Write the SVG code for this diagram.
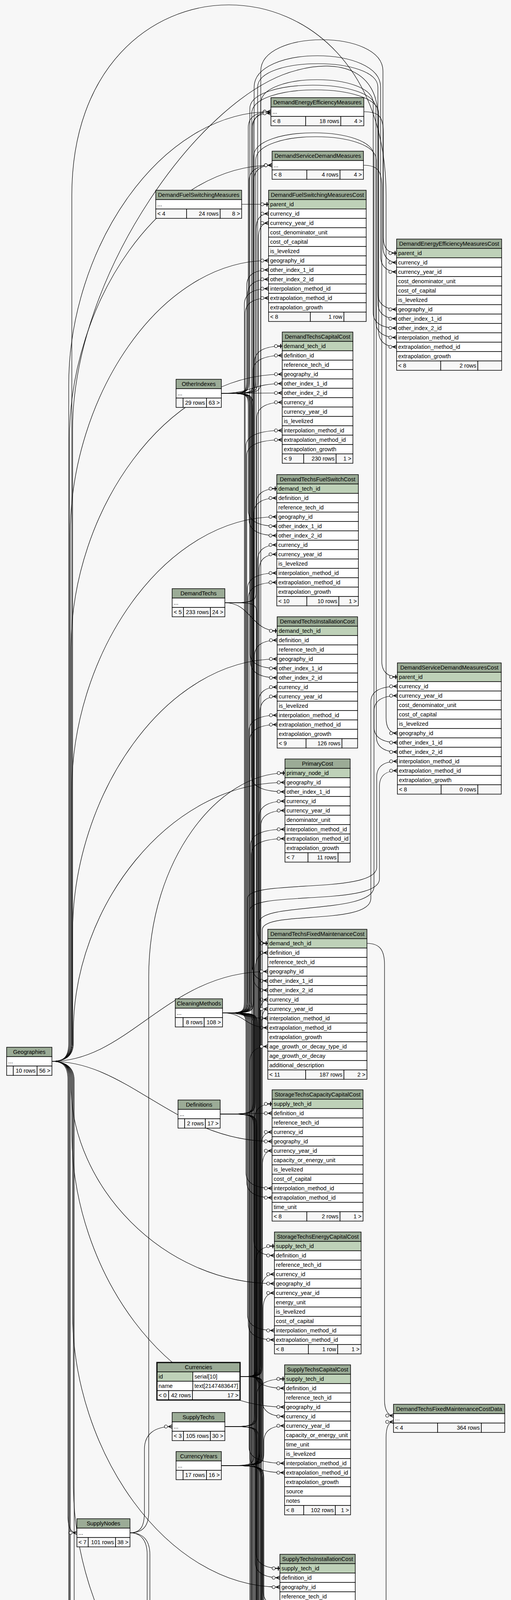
<svg xmlns="http://www.w3.org/2000/svg" width="1309" height="6446" viewBox="0 0 1309 6446">
<defs>
<style>
text{font-family:"Liberation Sans",Arial,Helvetica,sans-serif;font-size:14.5px;fill:#000}
.tc{text-anchor:middle}
.tr{text-anchor:end}
.h{fill:#9bab96;stroke:#000;stroke-width:1.5}
.k{fill:#bed1b8;stroke:#000;stroke-width:1.5}
.w{fill:#fff;stroke:#000;stroke-width:1.5}
.f{fill:#f7f7f7;stroke:#000;stroke-width:1.5}
#edges path{fill:none;stroke:#000;stroke-width:1.2;marker-end:url(#m)}
#edges path.o{marker-end:url(#o)}
</style>
<marker id="m" markerUnits="userSpaceOnUse" markerWidth="22" markerHeight="14" refX="22" refY="7" orient="auto">
<circle cx="6" cy="7" r="4" fill="#fff" stroke="#000" stroke-width="1.2"/>
<path d="M12 7L22 2.5M12 7L22 7M12 7L22 11.5" fill="none" stroke="#000" stroke-width="1.5"/>
</marker>
<marker id="o" markerUnits="userSpaceOnUse" markerWidth="22" markerHeight="14" refX="22" refY="7" orient="auto">
<circle cx="6" cy="7" r="4" fill="#fff" stroke="#000" stroke-width="1.2"/>
<path d="M10 7H22M18 1.5V12.5" fill="none" stroke="#000" stroke-width="2.5"/>
</marker>
</defs>
<rect x="0" y="0" width="1309" height="6446" fill="#f7f7f7"/>
<g id="edges">
<path d="M567 1007C632 1007 632 1007 632 967L632 731C632 703 654 691 688 691"/>
<path d="M567 1007C634 1007 634 1007 634 967L634 755C634 727 656 715 688 715"/>
<path d="M567 1007C645 1007 645 982 723 982"/>
<path d="M567 1007C645 1007 645 1006 723 1006"/>
<path d="M567 1007C636 1007 636 1007 636 1047L636 1307C636 1335 665 1347 709 1347"/>
<path d="M567 1007C638 1007 638 1007 638 1047L638 1331C638 1359 666 1371 709 1371"/>
<path d="M567 1007C640 1007 640 1007 640 1047L640 1671C640 1699 668 1711 710 1711"/>
<path d="M567 1007C642 1007 642 1007 642 1047L642 1695C642 1723 669 1735 710 1735"/>
<path d="M567 1007C644 1007 644 1007 644 1047L644 1987C644 2015 678 2027 730 2027"/>
<path d="M567 1007C646 1007 646 1007 646 1047L646 2471C646 2499 662 2511 686 2511"/>
<path d="M567 1007C648 1007 648 1007 648 1047L648 2495C648 2523 663 2535 686 2535"/>
<path d="M567 1007C660 1007 660 1007 660 967L660 223C660 143 968 143 968 223L968 776C968 804 990 816 1016 816"/>
<path d="M567 1007C668 1007 668 1007 668 967L668 264C668 184 956 184 956 264L956 800C956 828 980 840 1016 840"/>
<path d="M567 1007C650 1007 650 1007 650 967L650 400C650 320 958 320 958 400L958 1861C958 1889 982 1901 1018 1901"/>
<path d="M567 1007C655 1007 655 1007 655 967L655 410C655 330 964 330 964 410L964 1885C964 1913 986 1925 1018 1925"/>
<path d="M567 1007C636 1007 636 1007 636 967L636 326C636 298 659 286 694 286"/>
<path d="M567 1007C638 1007 638 1007 638 967L638 463C638 435 662 423 697 423"/>
<path class="o" d="M576 1543C652 1543 652 1543 652 1503L652 926C652 898 680 886 723 886"/>
<path class="o" d="M576 1543C656 1543 656 1543 656 1503L656 1291C656 1263 677 1251 709 1251"/>
<path class="o" d="M576 1543C643 1543 643 1615 710 1615"/>
<path class="o" d="M576 1543C658 1543 658 1543 658 1583L658 2375C658 2403 669 2415 686 2415"/>
<path d="M570 2593C626 2593 626 2593 626 2553L626 779C626 751 651 739 688 739"/>
<path d="M570 2593C628 2593 628 2593 628 2553L628 803C628 775 652 763 688 763"/>
<path d="M570 2593C630 2593 630 2593 630 2553L630 1142C630 1114 667 1102 723 1102"/>
<path d="M570 2593C632 2593 632 2593 632 2553L632 1166C632 1138 668 1126 723 1126"/>
<path d="M570 2593C634 2593 634 2593 634 2553L634 1507C634 1479 664 1467 709 1467"/>
<path d="M570 2593C636 2593 636 2593 636 2553L636 1531C636 1503 665 1491 709 1491"/>
<path d="M570 2593C638 2593 638 2593 638 2553L638 1871C638 1843 667 1831 710 1831"/>
<path d="M570 2593C640 2593 640 2593 640 2553L640 1895C640 1867 668 1855 710 1855"/>
<path d="M570 2593C642 2593 642 2593 642 2553L642 2163C642 2135 677 2123 730 2123"/>
<path d="M570 2593C644 2593 644 2593 644 2553L644 2187C644 2159 678 2147 730 2147"/>
<path d="M570 2593C628 2593 628 2607 686 2607"/>
<path d="M570 2593C628 2593 628 2631 686 2631"/>
<path d="M570 2593C630 2593 630 2593 630 2633L630 3002C630 3030 657 3042 697 3042"/>
<path d="M570 2593C632 2593 632 2593 632 2633L632 3026C632 3054 658 3066 697 3066"/>
<path d="M570 2593C634 2593 634 2593 634 2633L634 3366C634 3394 662 3406 703 3406"/>
<path d="M570 2593C636 2593 636 2593 636 2633L636 3390C636 3418 663 3430 703 3430"/>
<path d="M570 2593C638 2593 638 2593 638 2633L638 3706C638 3734 674 3746 729 3746"/>
<path d="M570 2593C640 2593 640 2593 640 2633L640 3730C640 3758 676 3770 729 3770"/>
<path d="M570 2593C642 2593 642 2593 642 2633L642 4191C642 4219 672 4231 717 4231"/>
<path d="M570 2593C644 2593 644 2593 644 2633L644 4215C644 4243 673 4255 717 4255"/>
<path d="M570 2593C646 2593 646 2593 646 2633L646 4578C646 4606 665 4618 693 4618"/>
<path d="M570 2593C648 2593 648 2593 648 2633L648 4602C648 4630 666 4642 693 4642"/>
<path d="M570 2593C650 2593 650 2593 650 2633L650 4991C650 5019 664 5031 684 5031"/>
<path d="M570 2593C652 2593 652 2593 652 2633L652 5015C652 5043 665 5055 684 5055"/>
<path d="M570 2593C654 2593 654 2593 654 2633L654 5647C654 5675 684 5687 730 5687"/>
<path d="M570 2593C656 2593 656 2593 656 2633L656 5671C656 5699 686 5711 730 5711"/>
<path d="M570 2593C658 2593 658 2593 658 2633L658 6154C658 6182 687 6194 730 6194"/>
<path d="M570 2593C660 2593 660 2593 660 2633L660 6178C660 6206 688 6218 730 6218"/>
<path d="M570 2593C640 2593 640 2593 640 2553L640 278C640 198 963 198 963 278L963 824C963 852 985 864 1016 864"/>
<path d="M570 2593C645 2593 645 2593 645 2553L645 290C645 210 970 210 970 290L970 848C970 876 990 888 1016 888"/>
<path d="M570 2593C634 2593 634 2593 634 2553L634 2300C634 2250 965 2290 965 2220L965 1989C965 1961 985 1949 1018 1949"/>
<path d="M570 2593C640 2593 640 2593 640 2553L640 2330C640 2280 972 2320 972 2250L972 2013C972 1985 990 1973 1018 1973"/>
<path d="M570 2593C648 2593 648 2593 648 2553L648 326C648 298 668 286 694 286"/>
<path d="M570 2593C650 2593 650 2593 650 2553L650 463C650 435 670 423 697 423"/>
<path d="M564 2852C648 2852 648 2852 648 2812L648 950C648 922 678 910 723 910"/>
<path d="M564 2852C650 2852 650 2852 650 2812L650 1315C650 1287 674 1275 709 1275"/>
<path d="M564 2852C652 2852 652 2852 652 2812L652 1679C652 1651 675 1639 710 1639"/>
<path d="M564 2852C654 2852 654 2852 654 2812L654 2479C654 2451 667 2439 686 2439"/>
<path d="M564 2852C630 2852 630 2850 697 2850"/>
<path d="M564 2852C650 2852 650 2852 650 2892L650 3174C650 3202 671 3214 703 3214"/>
<path d="M564 2852C652 2852 652 2852 652 2892L652 3514C652 3542 683 3554 729 3554"/>
<path d="M564 2852C654 2852 654 2852 654 2892L654 3999C654 4027 679 4039 717 4039"/>
<path d="M564 2852C656 2852 656 2852 656 2892L656 4410C656 4438 671 4450 693 4450"/>
<path d="M564 2852C658 2852 658 2852 658 2892L658 4847C658 4875 668 4887 684 4887"/>
<path d="M615 3524C656 3524 656 3524 656 3484L656 587C656 559 669 547 688 547"/>
<path d="M615 3524C658 3524 658 3524 658 3484L658 1070C658 1042 685 1030 723 1030"/>
<path d="M615 3524C660 3524 660 3524 660 3484L660 1435C660 1407 680 1395 709 1395"/>
<path d="M615 3524C662 3524 662 3524 662 3484L662 1799C662 1771 681 1759 710 1759"/>
<path d="M615 3524C664 3524 664 3524 664 3484L664 2091C664 2063 690 2051 730 2051"/>
<path d="M615 3524C666 3524 666 3524 666 3484L666 2599C666 2571 674 2559 686 2559"/>
<path d="M615 3524C668 3524 668 3524 668 3484L668 2938C668 2910 680 2898 697 2898"/>
<path d="M615 3524C670 3524 670 3524 670 3484L670 3302C670 3274 683 3262 703 3262"/>
<path d="M615 3524C672 3524 672 3524 672 3564L672 3586C672 3614 695 3626 729 3626"/>
<path d="M615 3524C674 3524 674 3524 674 3564L674 4071C674 4099 691 4111 717 4111"/>
<path d="M615 3524C668 3524 668 3524 668 3564L668 4482C668 4510 678 4522 693 4522"/>
<path d="M615 3524C664 3524 664 3524 664 3564L664 4895C664 4923 672 4935 684 4935"/>
<path d="M615 3524C670 3524 670 3524 670 3564L670 5258C670 5286 701 5298 748 5298"/>
<path d="M615 3524C666 3524 666 3524 666 3564L666 5575C666 5603 692 5615 730 5615"/>
<path d="M615 3524C662 3524 662 3524 662 3564L662 5962C662 5990 689 6002 730 6002"/>
<path d="M615 3524C668 3524 668 3524 668 3484L668 182C668 75 981 75 981 182L981 632C981 660 1000 672 1016 672"/>
<path d="M615 3524C672 3524 672 3524 672 3484L672 2380C672 2330 950 2370 950 2300L950 1797C950 1769 975 1757 1018 1757"/>
<path d="M567 3752C662 3752 662 3752 662 3712L662 611C662 583 672 571 688 571"/>
<path d="M567 3752C664 3752 664 3752 664 3712L664 1459C664 1431 682 1419 709 1419"/>
<path d="M567 3752C666 3752 666 3752 666 3712L666 1823C666 1795 684 1783 710 1783"/>
<path d="M567 3752C668 3752 668 3752 668 3712L668 2115C668 2087 693 2075 730 2075"/>
<path d="M567 3752C670 3752 670 3752 670 3712L670 2623C670 2595 676 2583 686 2583"/>
<path d="M567 3752C672 3752 672 3752 672 3712L672 2986C672 2958 682 2946 697 2946"/>
<path d="M567 3752C674 3752 674 3752 674 3712L674 3350C674 3322 686 3310 703 3310"/>
<path d="M567 3752C676 3752 676 3752 676 3712L676 3690C676 3662 697 3650 729 3650"/>
<path d="M567 3752C670 3752 670 3752 670 3792L670 4095C670 4123 689 4135 717 4135"/>
<path d="M567 3752C672 3752 672 3752 672 3792L672 4506C672 4534 680 4546 693 4546"/>
<path d="M567 3752C668 3752 668 3752 668 3792L668 4943C668 4971 674 4983 684 4983"/>
<path d="M567 3752C674 3752 674 3752 674 3792L674 5234C674 5262 704 5274 748 5274"/>
<path d="M567 3752C672 3752 672 3752 672 3792L672 5599C672 5627 695 5639 730 5639"/>
<path d="M567 3752C676 3752 676 3752 676 3792L676 5986C676 6014 698 6026 730 6026"/>
<path d="M567 3752C651 3752 651 3752 651 3712L651 223C651 116 975 116 975 223L975 656C975 684 995 696 1016 696"/>
<path d="M567 3752C665 3752 665 3752 665 3712L665 2360C665 2310 958 2340 958 2270L958 1821C958 1793 980 1781 1018 1781"/>
<path class="o" d="M576 3652C652 3652 652 3652 652 3612L652 2866C652 2838 670 2826 697 2826"/>
<path class="o" d="M576 3652C655 3652 655 3652 655 3612L655 3230C655 3202 674 3190 703 3190"/>
<path class="o" d="M576 3652C658 3652 658 3652 658 3612L658 3570C658 3542 687 3530 729 3530"/>
<path class="o" d="M576 3652C656 3652 656 3652 656 3692L656 3975C656 4003 680 4015 717 4015"/>
<path class="o" d="M576 3652C659 3652 659 3652 659 3692L659 4386C659 4414 673 4426 693 4426"/>
<path class="o" d="M576 3652C662 3652 662 3652 662 3692L662 4823C662 4851 671 4863 684 4863"/>
<path d="M133 2717C165 2717 176 2705 176 2670L176 986C176 636 409 286 694 286"/>
<path d="M133 2717C165 2717 178 2705 178 2670L178 1123C178 773 412 423 697 423"/>
<path d="M133 2717C165 2717 180 2705 180 2670L180 1367C180 1017 409 667 688 667"/>
<path d="M133 2717C165 2717 182 2705 182 2670L182 1658C182 1308 425 958 723 958"/>
<path d="M133 2717C165 2717 184 2705 184 2670L184 2023C184 1673 420 1323 709 1323"/>
<path d="M133 2717C165 2717 186 2705 186 2670L186 2387C186 2037 422 1687 710 1687"/>
<path d="M133 2717C165 2717 188 2705 188 2670L188 2640C188 2322 432 2003 730 2003"/>
<path d="M133 2717C330 2717 430 2487 686 2487"/>
<path d="M133 2717C165 2717 186 2705 186 2670L186 1100C186 700 520 240 760 180C870 150 968 180 968 300L968 752C968 780 990 792 1016 792"/>
<path d="M133 2717C165 2717 184 2705 184 2670L184 500C184 -150 989 -150 989 500L989 1837C989 1865 1000 1877 1018 1877"/>
<path d="M133 2717C330 2717 450 2922 697 2922"/>
<path d="M133 2717C165 2717 182 2730 182 2765L182 2780C182 3033 416 3286 703 3286"/>
<path d="M133 2717C165 2717 184 2730 184 2765L184 2902C184 3252 429 3602 729 3602"/>
<path d="M133 2717C165 2717 186 2730 186 2765L186 3363C186 3713 425 4063 717 4063"/>
<path d="M133 2717C165 2717 188 2730 188 2765L188 3798C188 4148 415 4498 693 4498"/>
<path d="M133 2717C165 2717 190 2730 190 2765L190 4259C190 4609 412 4959 684 4959"/>
<path d="M133 2717C165 2717 180 2730 180 2765L180 4891C180 5241 427 5591 730 5591"/>
<path d="M133 2717C165 2717 178 2730 178 2765L178 5254C178 5604 426 5954 730 5954"/>
<path d="M133 2717C165 2717 176 2730 176 2765L176 5900C176 6150 300 6310 441 6310"/>
<path d="M133 2717C162 2717 174 2730 174 2765L174 3880C174 3912 182 3924 197 3924"/>
<path d="M333 3924C362 3924 370 3905 370 3870L370 3710C370 3672 395 3652 441 3652"/>
<path class="o" d="M333 3924C368 3924 381 3905 381 3870L381 2500C381 2200 560 1979 730 1979"/>
<path class="o" d="M333 3924C368 3924 384 3945 384 3980L384 5100C384 5350 560 5519 730 5519"/>
<path d="M333 3924C362 3924 377 3945 377 3980L377 5400C377 5700 560 5930 730 5930"/>
<path class="o" d="M619 523L688 523"/>
<path class="o" d="M932 286C972 286 982 300 982 340L982 608C982 636 995 648 1016 648"/>
<path class="o" d="M931 423C970 423 978 440 978 480L978 1693C978 1721 995 1733 1018 1733"/>
<path d="M940 2415C975 2415 985 2435 985 2470L985 3584C985 3612 995 3624 1008 3624"/>
<path d="M576 6310C700 6310 760 6395 835 6395C930 6395 989 6330 989 6250L989 3680C989 3652 996 3640 1008 3640"/>
<path d="M897 5519C985 5519 1000 5622 1087 5622"/>
<path d="M576 6310C700 6320 780 6361 851 6361C930 6361 968 6300 968 6220L968 5700C968 5655 1000 5632 1087 5632"/>
<path d="M897 5834C990 5834 990 6103 1087 6103"/>
<path d="M576 6310C700 6315 760 6324 835 6324C915 6324 956 6290 956 6230L956 6170C956 6135 1000 6113 1087 6113"/>
<path d="M576 6310C645 6310 645 6310 645 6270L645 330C645 302 662 290 694 290"/>
<path d="M595 4690C640 4690 640 4690 640 4650L640 2719C640 2691 658 2679 686 2679"/>
<path d="M595 4690L693 4690"/>
<path d="M595 4690C642 4690 642 4690 642 4730L642 5063C642 5091 659 5103 684 5103"/>
<path d="M571 5978L730 5978"/>
</g>

<g id="DemandEnergyEfficiencyMeasures">
<rect class="h" x="694" y="250" width="238" height="24"/><text class="tc" x="813" y="267">DemandEnergyEfficiencyMeasures</text>
<rect class="w" x="694" y="274" width="238" height="24"/><text x="698" y="291">...</text>
<rect class="f" x="694" y="298" width="89" height="24"/><rect class="f" x="783" y="298" width="90" height="24"/><rect class="f" x="873" y="298" width="59" height="24"/>
<text x="698" y="315">&lt; 8</text><text class="tr" x="869" y="315">18 rows</text><text class="tr" x="928" y="315">4 &gt;</text>
</g>

<g id="DemandServiceDemandMeasures">
<rect class="h" x="697" y="387" width="234" height="24"/><text class="tc" x="814" y="404">DemandServiceDemandMeasures</text>
<rect class="w" x="697" y="411" width="234" height="24"/><text x="701" y="428">...</text>
<rect class="f" x="697" y="435" width="89" height="24"/><rect class="f" x="786" y="435" width="85" height="24"/><rect class="f" x="871" y="435" width="60" height="24"/>
<text x="701" y="452">&lt; 8</text><text class="tr" x="867" y="452">4 rows</text><text class="tr" x="927" y="452">4 &gt;</text>
</g>

<g id="DemandFuelSwitchingMeasures">
<rect class="h" x="399" y="487" width="220" height="24"/><text class="tc" x="509" y="504">DemandFuelSwitchingMeasures</text>
<rect class="w" x="399" y="511" width="220" height="24"/><text x="403" y="528">...</text>
<rect class="f" x="399" y="535" width="79" height="24"/><rect class="f" x="478" y="535" width="86" height="24"/><rect class="f" x="564" y="535" width="55" height="24"/>
<text x="403" y="552">&lt; 4</text><text class="tr" x="560" y="552">24 rows</text><text class="tr" x="615" y="552">8 &gt;</text>
</g>

<g id="DemandFuelSwitchingMeasuresCost">
<rect class="h" x="688" y="487" width="250" height="24"/><text class="tc" x="813" y="504">DemandFuelSwitchingMeasuresCost</text>
<rect class="k" x="688" y="511" width="250" height="24"/><text x="692" y="528">parent_id</text>
<rect class="w" x="688" y="535" width="250" height="24"/><text x="692" y="552">currency_id</text>
<rect class="w" x="688" y="559" width="250" height="24"/><text x="692" y="576">currency_year_id</text>
<rect class="w" x="688" y="583" width="250" height="24"/><text x="692" y="600">cost_denominator_unit</text>
<rect class="w" x="688" y="607" width="250" height="24"/><text x="692" y="624">cost_of_capital</text>
<rect class="w" x="688" y="631" width="250" height="24"/><text x="692" y="648">is_levelized</text>
<rect class="w" x="688" y="655" width="250" height="24"/><text x="692" y="672">geography_id</text>
<rect class="w" x="688" y="679" width="250" height="24"/><text x="692" y="696">other_index_1_id</text>
<rect class="w" x="688" y="703" width="250" height="24"/><text x="692" y="720">other_index_2_id</text>
<rect class="w" x="688" y="727" width="250" height="24"/><text x="692" y="744">interpolation_method_id</text>
<rect class="w" x="688" y="751" width="250" height="24"/><text x="692" y="768">extrapolation_method_id</text>
<rect class="w" x="688" y="775" width="250" height="24"/><text x="692" y="792">extrapolation_growth</text>
<rect class="f" x="688" y="799" width="107" height="24"/><rect class="f" x="795" y="799" width="86" height="24"/><rect class="f" x="881" y="799" width="57" height="24"/>
<text x="692" y="816">&lt; 8</text><text class="tr" x="877" y="816">1 row</text>
</g>

<g id="DemandEnergyEfficiencyMeasuresCost">
<rect class="h" x="1016" y="612" width="269" height="24"/><text class="tc" x="1150.5" y="629">DemandEnergyEfficiencyMeasuresCost</text>
<rect class="k" x="1016" y="636" width="269" height="24"/><text x="1020" y="653">parent_id</text>
<rect class="w" x="1016" y="660" width="269" height="24"/><text x="1020" y="677">currency_id</text>
<rect class="w" x="1016" y="684" width="269" height="24"/><text x="1020" y="701">currency_year_id</text>
<rect class="w" x="1016" y="708" width="269" height="24"/><text x="1020" y="725">cost_denominator_unit</text>
<rect class="w" x="1016" y="732" width="269" height="24"/><text x="1020" y="749">cost_of_capital</text>
<rect class="w" x="1016" y="756" width="269" height="24"/><text x="1020" y="773">is_levelized</text>
<rect class="w" x="1016" y="780" width="269" height="24"/><text x="1020" y="797">geography_id</text>
<rect class="w" x="1016" y="804" width="269" height="24"/><text x="1020" y="821">other_index_1_id</text>
<rect class="w" x="1016" y="828" width="269" height="24"/><text x="1020" y="845">other_index_2_id</text>
<rect class="w" x="1016" y="852" width="269" height="24"/><text x="1020" y="869">interpolation_method_id</text>
<rect class="w" x="1016" y="876" width="269" height="24"/><text x="1020" y="893">extrapolation_method_id</text>
<rect class="w" x="1016" y="900" width="269" height="24"/><text x="1020" y="917">extrapolation_growth</text>
<rect class="f" x="1016" y="924" width="113" height="24"/><rect class="f" x="1129" y="924" width="95" height="24"/><rect class="f" x="1224" y="924" width="61" height="24"/>
<text x="1020" y="941">&lt; 8</text><text class="tr" x="1220" y="941">2 rows</text>
</g>

<g id="DemandTechsCapitalCost">
<rect class="h" x="723" y="850" width="181" height="24"/><text class="tc" x="813.5" y="867">DemandTechsCapitalCost</text>
<rect class="k" x="723" y="874" width="181" height="24"/><text x="727" y="891">demand_tech_id</text>
<rect class="w" x="723" y="898" width="181" height="24"/><text x="727" y="915">definition_id</text>
<rect class="w" x="723" y="922" width="181" height="24"/><text x="727" y="939">reference_tech_id</text>
<rect class="w" x="723" y="946" width="181" height="24"/><text x="727" y="963">geography_id</text>
<rect class="w" x="723" y="970" width="181" height="24"/><text x="727" y="987">other_index_1_id</text>
<rect class="w" x="723" y="994" width="181" height="24"/><text x="727" y="1011">other_index_2_id</text>
<rect class="w" x="723" y="1018" width="181" height="24"/><text x="727" y="1035">currency_id</text>
<rect class="w" x="723" y="1042" width="181" height="24"/><text x="727" y="1059">currency_year_id</text>
<rect class="w" x="723" y="1066" width="181" height="24"/><text x="727" y="1083">is_levelized</text>
<rect class="w" x="723" y="1090" width="181" height="24"/><text x="727" y="1107">interpolation_method_id</text>
<rect class="w" x="723" y="1114" width="181" height="24"/><text x="727" y="1131">extrapolation_method_id</text>
<rect class="w" x="723" y="1138" width="181" height="24"/><text x="727" y="1155">extrapolation_growth</text>
<rect class="f" x="723" y="1162" width="55" height="24"/><rect class="f" x="778" y="1162" width="83" height="24"/><rect class="f" x="861" y="1162" width="43" height="24"/>
<text x="727" y="1179">&lt; 9</text><text class="tr" x="857" y="1179">230 rows</text><text class="tr" x="900" y="1179">1 &gt;</text>
</g>

<g id="OtherIndexes">
<rect class="h" x="451" y="971" width="116" height="24"/><text class="tc" x="509" y="988">OtherIndexes</text>
<rect class="w" x="451" y="995" width="116" height="24"/><text x="455" y="1012">...</text>
<rect class="f" x="451" y="1019" width="18" height="24"/><rect class="f" x="469" y="1019" width="60" height="24"/><rect class="f" x="529" y="1019" width="38" height="24"/>
<text class="tr" x="525" y="1036">29 rows</text><text class="tr" x="563" y="1036">63 &gt;</text>
</g>

<g id="DemandTechsFuelSwitchCost">
<rect class="h" x="709" y="1215" width="209" height="24"/><text class="tc" x="813.5" y="1232">DemandTechsFuelSwitchCost</text>
<rect class="k" x="709" y="1239" width="209" height="24"/><text x="713" y="1256">demand_tech_id</text>
<rect class="w" x="709" y="1263" width="209" height="24"/><text x="713" y="1280">definition_id</text>
<rect class="w" x="709" y="1287" width="209" height="24"/><text x="713" y="1304">reference_tech_id</text>
<rect class="w" x="709" y="1311" width="209" height="24"/><text x="713" y="1328">geography_id</text>
<rect class="w" x="709" y="1335" width="209" height="24"/><text x="713" y="1352">other_index_1_id</text>
<rect class="w" x="709" y="1359" width="209" height="24"/><text x="713" y="1376">other_index_2_id</text>
<rect class="w" x="709" y="1383" width="209" height="24"/><text x="713" y="1400">currency_id</text>
<rect class="w" x="709" y="1407" width="209" height="24"/><text x="713" y="1424">currency_year_id</text>
<rect class="w" x="709" y="1431" width="209" height="24"/><text x="713" y="1448">is_levelized</text>
<rect class="w" x="709" y="1455" width="209" height="24"/><text x="713" y="1472">interpolation_method_id</text>
<rect class="w" x="709" y="1479" width="209" height="24"/><text x="713" y="1496">extrapolation_method_id</text>
<rect class="w" x="709" y="1503" width="209" height="24"/><text x="713" y="1520">extrapolation_growth</text>
<rect class="f" x="709" y="1527" width="77" height="24"/><rect class="f" x="786" y="1527" width="82" height="24"/><rect class="f" x="868" y="1527" width="50" height="24"/>
<text x="713" y="1544">&lt; 10</text><text class="tr" x="864" y="1544">10 rows</text><text class="tr" x="914" y="1544">1 &gt;</text>
</g>

<g id="DemandTechs">
<rect class="h" x="441" y="1507" width="135" height="24"/><text class="tc" x="508.5" y="1524">DemandTechs</text>
<rect class="w" x="441" y="1531" width="135" height="24"/><text x="445" y="1548">...</text>
<rect class="f" x="441" y="1555" width="29" height="24"/><rect class="f" x="470" y="1555" width="69" height="24"/><rect class="f" x="539" y="1555" width="37" height="24"/>
<text x="445" y="1572">&lt; 5</text><text class="tr" x="535" y="1572">233 rows</text><text class="tr" x="572" y="1572">24 &gt;</text>
</g>

<g id="DemandTechsInstallationCost">
<rect class="h" x="710" y="1579" width="206" height="24"/><text class="tc" x="813" y="1596">DemandTechsInstallationCost</text>
<rect class="k" x="710" y="1603" width="206" height="24"/><text x="714" y="1620">demand_tech_id</text>
<rect class="w" x="710" y="1627" width="206" height="24"/><text x="714" y="1644">definition_id</text>
<rect class="w" x="710" y="1651" width="206" height="24"/><text x="714" y="1668">reference_tech_id</text>
<rect class="w" x="710" y="1675" width="206" height="24"/><text x="714" y="1692">geography_id</text>
<rect class="w" x="710" y="1699" width="206" height="24"/><text x="714" y="1716">other_index_1_id</text>
<rect class="w" x="710" y="1723" width="206" height="24"/><text x="714" y="1740">other_index_2_id</text>
<rect class="w" x="710" y="1747" width="206" height="24"/><text x="714" y="1764">currency_id</text>
<rect class="w" x="710" y="1771" width="206" height="24"/><text x="714" y="1788">currency_year_id</text>
<rect class="w" x="710" y="1795" width="206" height="24"/><text x="714" y="1812">is_levelized</text>
<rect class="w" x="710" y="1819" width="206" height="24"/><text x="714" y="1836">interpolation_method_id</text>
<rect class="w" x="710" y="1843" width="206" height="24"/><text x="714" y="1860">extrapolation_method_id</text>
<rect class="w" x="710" y="1867" width="206" height="24"/><text x="714" y="1884">extrapolation_growth</text>
<rect class="f" x="710" y="1891" width="74" height="24"/><rect class="f" x="784" y="1891" width="92" height="24"/><rect class="f" x="876" y="1891" width="40" height="24"/>
<text x="714" y="1908">&lt; 9</text><text class="tr" x="872" y="1908">126 rows</text>
</g>

<g id="DemandServiceDemandMeasuresCost">
<rect class="h" x="1018" y="1697" width="266" height="24"/><text class="tc" x="1151" y="1714">DemandServiceDemandMeasuresCost</text>
<rect class="k" x="1018" y="1721" width="266" height="24"/><text x="1022" y="1738">parent_id</text>
<rect class="w" x="1018" y="1745" width="266" height="24"/><text x="1022" y="1762">currency_id</text>
<rect class="w" x="1018" y="1769" width="266" height="24"/><text x="1022" y="1786">currency_year_id</text>
<rect class="w" x="1018" y="1793" width="266" height="24"/><text x="1022" y="1810">cost_denominator_unit</text>
<rect class="w" x="1018" y="1817" width="266" height="24"/><text x="1022" y="1834">cost_of_capital</text>
<rect class="w" x="1018" y="1841" width="266" height="24"/><text x="1022" y="1858">is_levelized</text>
<rect class="w" x="1018" y="1865" width="266" height="24"/><text x="1022" y="1882">geography_id</text>
<rect class="w" x="1018" y="1889" width="266" height="24"/><text x="1022" y="1906">other_index_1_id</text>
<rect class="w" x="1018" y="1913" width="266" height="24"/><text x="1022" y="1930">other_index_2_id</text>
<rect class="w" x="1018" y="1937" width="266" height="24"/><text x="1022" y="1954">interpolation_method_id</text>
<rect class="w" x="1018" y="1961" width="266" height="24"/><text x="1022" y="1978">extrapolation_method_id</text>
<rect class="w" x="1018" y="1985" width="266" height="24"/><text x="1022" y="2002">extrapolation_growth</text>
<rect class="f" x="1018" y="2009" width="112" height="24"/><rect class="f" x="1130" y="2009" width="94" height="24"/><rect class="f" x="1224" y="2009" width="60" height="24"/>
<text x="1022" y="2026">&lt; 8</text><text class="tr" x="1220" y="2026">0 rows</text>
</g>

<g id="PrimaryCost">
<rect class="h" x="730" y="1943" width="167" height="24"/><text class="tc" x="813.5" y="1960">PrimaryCost</text>
<rect class="k" x="730" y="1967" width="167" height="24"/><text x="734" y="1984">primary_node_id</text>
<rect class="w" x="730" y="1991" width="167" height="24"/><text x="734" y="2008">geography_id</text>
<rect class="w" x="730" y="2015" width="167" height="24"/><text x="734" y="2032">other_index_1_id</text>
<rect class="w" x="730" y="2039" width="167" height="24"/><text x="734" y="2056">currency_id</text>
<rect class="w" x="730" y="2063" width="167" height="24"/><text x="734" y="2080">currency_year_id</text>
<rect class="w" x="730" y="2087" width="167" height="24"/><text x="734" y="2104">denominator_unit</text>
<rect class="w" x="730" y="2111" width="167" height="24"/><text x="734" y="2128">interpolation_method_id</text>
<rect class="w" x="730" y="2135" width="167" height="24"/><text x="734" y="2152">extrapolation_method_id</text>
<rect class="w" x="730" y="2159" width="167" height="24"/><text x="734" y="2176">extrapolation_growth</text>
<rect class="f" x="730" y="2183" width="59" height="24"/><rect class="f" x="789" y="2183" width="77" height="24"/><rect class="f" x="866" y="2183" width="31" height="24"/>
<text x="734" y="2200">&lt; 7</text><text class="tr" x="862" y="2200">11 rows</text>
</g>

<g id="DemandTechsFixedMaintenanceCost">
<rect class="h" x="686" y="2379" width="254" height="24"/><text class="tc" x="813" y="2396">DemandTechsFixedMaintenanceCost</text>
<rect class="k" x="686" y="2403" width="254" height="24"/><text x="690" y="2420">demand_tech_id</text>
<rect class="w" x="686" y="2427" width="254" height="24"/><text x="690" y="2444">definition_id</text>
<rect class="w" x="686" y="2451" width="254" height="24"/><text x="690" y="2468">reference_tech_id</text>
<rect class="w" x="686" y="2475" width="254" height="24"/><text x="690" y="2492">geography_id</text>
<rect class="w" x="686" y="2499" width="254" height="24"/><text x="690" y="2516">other_index_1_id</text>
<rect class="w" x="686" y="2523" width="254" height="24"/><text x="690" y="2540">other_index_2_id</text>
<rect class="w" x="686" y="2547" width="254" height="24"/><text x="690" y="2564">currency_id</text>
<rect class="w" x="686" y="2571" width="254" height="24"/><text x="690" y="2588">currency_year_id</text>
<rect class="w" x="686" y="2595" width="254" height="24"/><text x="690" y="2612">interpolation_method_id</text>
<rect class="w" x="686" y="2619" width="254" height="24"/><text x="690" y="2636">extrapolation_method_id</text>
<rect class="w" x="686" y="2643" width="254" height="24"/><text x="690" y="2660">extrapolation_growth</text>
<rect class="w" x="686" y="2667" width="254" height="24"/><text x="690" y="2684">age_growth_or_decay_type_id</text>
<rect class="w" x="686" y="2691" width="254" height="24"/><text x="690" y="2708">age_growth_or_decay</text>
<rect class="w" x="686" y="2715" width="254" height="24"/><text x="690" y="2732">additional_description</text>
<rect class="f" x="686" y="2739" width="97" height="24"/><rect class="f" x="783" y="2739" width="98" height="24"/><rect class="f" x="881" y="2739" width="59" height="24"/>
<text x="690" y="2756">&lt; 11</text><text class="tr" x="877" y="2756">187 rows</text><text class="tr" x="936" y="2756">2 &gt;</text>
</g>

<g id="CleaningMethods">
<rect class="h" x="449" y="2557" width="121" height="24"/><text class="tc" x="509.5" y="2574">CleaningMethods</text>
<rect class="w" x="449" y="2581" width="121" height="24"/><text x="453" y="2598">...</text>
<rect class="f" x="449" y="2605" width="20" height="24"/><rect class="f" x="469" y="2605" width="54" height="24"/><rect class="f" x="523" y="2605" width="47" height="24"/>
<text class="tr" x="519" y="2622">8 rows</text><text class="tr" x="566" y="2622">108 &gt;</text>
</g>

<g id="Geographies">
<rect class="h" x="17" y="2681" width="116" height="24"/><text class="tc" x="75" y="2698">Geographies</text>
<rect class="w" x="17" y="2705" width="116" height="24"/><text x="21" y="2722">...</text>
<rect class="f" x="17" y="2729" width="17" height="24"/><rect class="f" x="34" y="2729" width="61" height="24"/><rect class="f" x="95" y="2729" width="38" height="24"/>
<text class="tr" x="91" y="2746">10 rows</text><text class="tr" x="129" y="2746">56 &gt;</text>
</g>

<g id="Definitions">
<rect class="h" x="456" y="2816" width="108" height="24"/><text class="tc" x="510" y="2833">Definitions</text>
<rect class="w" x="456" y="2840" width="108" height="24"/><text x="460" y="2857">...</text>
<rect class="f" x="456" y="2864" width="17" height="24"/><rect class="f" x="473" y="2864" width="53" height="24"/><rect class="f" x="526" y="2864" width="38" height="24"/>
<text class="tr" x="522" y="2881">2 rows</text><text class="tr" x="560" y="2881">17 &gt;</text>
</g>

<g id="StorageTechsCapacityCapitalCost">
<rect class="h" x="697" y="2790" width="233" height="24"/><text class="tc" x="813.5" y="2807">StorageTechsCapacityCapitalCost</text>
<rect class="k" x="697" y="2814" width="233" height="24"/><text x="701" y="2831">supply_tech_id</text>
<rect class="w" x="697" y="2838" width="233" height="24"/><text x="701" y="2855">definition_id</text>
<rect class="w" x="697" y="2862" width="233" height="24"/><text x="701" y="2879">reference_tech_id</text>
<rect class="w" x="697" y="2886" width="233" height="24"/><text x="701" y="2903">currency_id</text>
<rect class="w" x="697" y="2910" width="233" height="24"/><text x="701" y="2927">geography_id</text>
<rect class="w" x="697" y="2934" width="233" height="24"/><text x="701" y="2951">currency_year_id</text>
<rect class="w" x="697" y="2958" width="233" height="24"/><text x="701" y="2975">capacity_or_energy_unit</text>
<rect class="w" x="697" y="2982" width="233" height="24"/><text x="701" y="2999">is_levelized</text>
<rect class="w" x="697" y="3006" width="233" height="24"/><text x="701" y="3023">cost_of_capital</text>
<rect class="w" x="697" y="3030" width="233" height="24"/><text x="701" y="3047">interpolation_method_id</text>
<rect class="w" x="697" y="3054" width="233" height="24"/><text x="701" y="3071">extrapolation_method_id</text>
<rect class="w" x="697" y="3078" width="233" height="24"/><text x="701" y="3095">time_unit</text>
<rect class="f" x="697" y="3102" width="89" height="24"/><rect class="f" x="786" y="3102" width="85" height="24"/><rect class="f" x="871" y="3102" width="59" height="24"/>
<text x="701" y="3119">&lt; 8</text><text class="tr" x="867" y="3119">2 rows</text><text class="tr" x="926" y="3119">1 &gt;</text>
</g>

<g id="StorageTechsEnergyCapitalCost">
<rect class="h" x="703" y="3154" width="222" height="24"/><text class="tc" x="814" y="3171">StorageTechsEnergyCapitalCost</text>
<rect class="k" x="703" y="3178" width="222" height="24"/><text x="707" y="3195">supply_tech_id</text>
<rect class="w" x="703" y="3202" width="222" height="24"/><text x="707" y="3219">definition_id</text>
<rect class="w" x="703" y="3226" width="222" height="24"/><text x="707" y="3243">reference_tech_id</text>
<rect class="w" x="703" y="3250" width="222" height="24"/><text x="707" y="3267">currency_id</text>
<rect class="w" x="703" y="3274" width="222" height="24"/><text x="707" y="3291">geography_id</text>
<rect class="w" x="703" y="3298" width="222" height="24"/><text x="707" y="3315">currency_year_id</text>
<rect class="w" x="703" y="3322" width="222" height="24"/><text x="707" y="3339">energy_unit</text>
<rect class="w" x="703" y="3346" width="222" height="24"/><text x="707" y="3363">is_levelized</text>
<rect class="w" x="703" y="3370" width="222" height="24"/><text x="707" y="3387">cost_of_capital</text>
<rect class="w" x="703" y="3394" width="222" height="24"/><text x="707" y="3411">interpolation_method_id</text>
<rect class="w" x="703" y="3418" width="222" height="24"/><text x="707" y="3435">extrapolation_method_id</text>
<rect class="f" x="703" y="3442" width="87" height="24"/><rect class="f" x="790" y="3442" width="75" height="24"/><rect class="f" x="865" y="3442" width="60" height="24"/>
<text x="707" y="3459">&lt; 8</text><text class="tr" x="861" y="3459">1 row</text><text class="tr" x="921" y="3459">1 &gt;</text>
</g>

<g id="Currencies">
<rect class="h" x="402" y="3488" width="213" height="24"/><text class="tc" x="508.5" y="3505">Currencies</text>
<rect class="k" x="402" y="3512" width="92" height="24"/><rect class="w" x="494" y="3512" width="121" height="24"/>
<text x="406" y="3529">id</text><text x="498" y="3529">serial[10]</text>
<rect class="w" x="402" y="3536" width="92" height="24"/><rect class="w" x="494" y="3536" width="121" height="24"/>
<text x="406" y="3553">name</text><text x="498" y="3553">text[2147483647]</text>
<rect class="f" x="402" y="3560" width="30" height="24"/><rect class="f" x="432" y="3560" width="61" height="24"/><rect class="f" x="493" y="3560" width="122" height="24"/>
<text x="406" y="3577">&lt; 0</text><text class="tr" x="489" y="3577">42 rows</text><text class="tr" x="611" y="3577">17 &gt;</text>
<rect x="402" y="3488" width="213" height="96" fill="none" stroke="#000" stroke-width="3"/>
</g>

<g id="SupplyTechsCapitalCost">
<rect class="h" x="729" y="3494" width="169" height="24"/><text class="tc" x="813.5" y="3511">SupplyTechsCapitalCost</text>
<rect class="k" x="729" y="3518" width="169" height="24"/><text x="733" y="3535">supply_tech_id</text>
<rect class="w" x="729" y="3542" width="169" height="24"/><text x="733" y="3559">definition_id</text>
<rect class="w" x="729" y="3566" width="169" height="24"/><text x="733" y="3583">reference_tech_id</text>
<rect class="w" x="729" y="3590" width="169" height="24"/><text x="733" y="3607">geography_id</text>
<rect class="w" x="729" y="3614" width="169" height="24"/><text x="733" y="3631">currency_id</text>
<rect class="w" x="729" y="3638" width="169" height="24"/><text x="733" y="3655">currency_year_id</text>
<rect class="w" x="729" y="3662" width="169" height="24"/><text x="733" y="3679">capacity_or_energy_unit</text>
<rect class="w" x="729" y="3686" width="169" height="24"/><text x="733" y="3703">time_unit</text>
<rect class="w" x="729" y="3710" width="169" height="24"/><text x="733" y="3727">is_levelized</text>
<rect class="w" x="729" y="3734" width="169" height="24"/><text x="733" y="3751">interpolation_method_id</text>
<rect class="w" x="729" y="3758" width="169" height="24"/><text x="733" y="3775">extrapolation_method_id</text>
<rect class="w" x="729" y="3782" width="169" height="24"/><text x="733" y="3799">extrapolation_growth</text>
<rect class="w" x="729" y="3806" width="169" height="24"/><text x="733" y="3823">source</text>
<rect class="w" x="729" y="3830" width="169" height="24"/><text x="733" y="3847">notes</text>
<rect class="f" x="729" y="3854" width="49" height="24"/><rect class="f" x="778" y="3854" width="81" height="24"/><rect class="f" x="859" y="3854" width="39" height="24"/>
<text x="733" y="3871">&lt; 8</text><text class="tr" x="855" y="3871">102 rows</text><text class="tr" x="894" y="3871">1 &gt;</text>
</g>

<g id="DemandTechsFixedMaintenanceCostData">
<rect class="h" x="1008" y="3595" width="285" height="24"/><text class="tc" x="1150.5" y="3612">DemandTechsFixedMaintenanceCostData</text>
<rect class="w" x="1008" y="3619" width="285" height="24"/><text x="1012" y="3636">...</text>
<rect class="f" x="1008" y="3643" width="113" height="24"/><rect class="f" x="1121" y="3643" width="112" height="24"/><rect class="f" x="1233" y="3643" width="60" height="24"/>
<text x="1012" y="3660">&lt; 4</text><text class="tr" x="1229" y="3660">364 rows</text>
</g>

<g id="SupplyTechs">
<rect class="h" x="441" y="3616" width="135" height="24"/><text class="tc" x="508.5" y="3633">SupplyTechs</text>
<rect class="w" x="441" y="3640" width="135" height="24"/><text x="445" y="3657">...</text>
<rect class="f" x="441" y="3664" width="29" height="24"/><rect class="f" x="470" y="3664" width="69" height="24"/><rect class="f" x="539" y="3664" width="37" height="24"/>
<text x="445" y="3681">&lt; 3</text><text class="tr" x="535" y="3681">105 rows</text><text class="tr" x="572" y="3681">30 &gt;</text>
</g>

<g id="CurrencyYears">
<rect class="h" x="451" y="3716" width="116" height="24"/><text class="tc" x="509" y="3733">CurrencyYears</text>
<rect class="w" x="451" y="3740" width="116" height="24"/><text x="455" y="3757">...</text>
<rect class="f" x="451" y="3764" width="18" height="24"/><rect class="f" x="469" y="3764" width="60" height="24"/><rect class="f" x="529" y="3764" width="38" height="24"/>
<text class="tr" x="525" y="3781">17 rows</text><text class="tr" x="563" y="3781">16 &gt;</text>
</g>

<g id="SupplyNodes">
<rect class="h" x="197" y="3888" width="136" height="24"/><text class="tc" x="265" y="3905">SupplyNodes</text>
<rect class="w" x="197" y="3912" width="136" height="24"/><text x="201" y="3929">...</text>
<rect class="f" x="197" y="3936" width="29" height="24"/><rect class="f" x="226" y="3936" width="70" height="24"/><rect class="f" x="296" y="3936" width="37" height="24"/>
<text x="201" y="3953">&lt; 7</text><text class="tr" x="292" y="3953">101 rows</text><text class="tr" x="329" y="3953">38 &gt;</text>
</g>

<g id="SupplyTechsInstallationCost">
<rect class="h" x="717" y="3979" width="193" height="24"/><text class="tc" x="813.5" y="3996">SupplyTechsInstallationCost</text>
<rect class="k" x="717" y="4003" width="193" height="24"/><text x="721" y="4020">supply_tech_id</text>
<rect class="w" x="717" y="4027" width="193" height="24"/><text x="721" y="4044">definition_id</text>
<rect class="w" x="717" y="4051" width="193" height="24"/><text x="721" y="4068">geography_id</text>
<rect class="w" x="717" y="4075" width="193" height="24"/><text x="721" y="4092">reference_tech_id</text>
<rect class="w" x="717" y="4099" width="193" height="24"/><text x="721" y="4116">currency_id</text>
<rect class="w" x="717" y="4123" width="193" height="24"/><text x="721" y="4140">currency_year_id</text>
<rect class="w" x="717" y="4147" width="193" height="24"/><text x="721" y="4164">capacity_or_energy_unit</text>
<rect class="w" x="717" y="4171" width="193" height="24"/><text x="721" y="4188">time_unit</text>
<rect class="w" x="717" y="4195" width="193" height="24"/><text x="721" y="4212">is_levelized</text>
<rect class="w" x="717" y="4219" width="193" height="24"/><text x="721" y="4236">interpolation_method_id</text>
<rect class="w" x="717" y="4243" width="193" height="24"/><text x="721" y="4260">extrapolation_method_id</text>
<rect class="w" x="717" y="4267" width="193" height="24"/><text x="721" y="4284">extrapolation_growth</text>
<rect class="w" x="717" y="4291" width="193" height="24"/><text x="721" y="4308">source</text>
<rect class="w" x="717" y="4315" width="193" height="24"/><text x="721" y="4332">notes</text>
<rect class="f" x="717" y="4339" width="66" height="24"/><rect class="f" x="783" y="4339" width="79" height="24"/><rect class="f" x="862" y="4339" width="48" height="24"/>
<text x="721" y="4356">&lt; 8</text><text class="tr" x="858" y="4356">33 rows</text><text class="tr" x="906" y="4356">1 &gt;</text>
</g>

<g id="SupplyTechsFixedMaintenanceCost">
<rect class="h" x="693" y="4390" width="241" height="24"/><text class="tc" x="813.5" y="4407">SupplyTechsFixedMaintenanceCost</text>
<rect class="k" x="693" y="4414" width="241" height="24"/><text x="697" y="4431">supply_tech_id</text>
<rect class="w" x="693" y="4438" width="241" height="24"/><text x="697" y="4455">definition_id</text>
<rect class="w" x="693" y="4462" width="241" height="24"/><text x="697" y="4479">reference_tech_id</text>
<rect class="w" x="693" y="4486" width="241" height="24"/><text x="697" y="4503">geography_id</text>
<rect class="w" x="693" y="4510" width="241" height="24"/><text x="697" y="4527">currency_id</text>
<rect class="w" x="693" y="4534" width="241" height="24"/><text x="697" y="4551">currency_year_id</text>
<rect class="w" x="693" y="4558" width="241" height="24"/><text x="697" y="4575">capacity_or_energy_unit</text>
<rect class="w" x="693" y="4582" width="241" height="24"/><text x="697" y="4599">time_unit</text>
<rect class="w" x="693" y="4606" width="241" height="24"/><text x="697" y="4623">interpolation_method_id</text>
<rect class="w" x="693" y="4630" width="241" height="24"/><text x="697" y="4647">extrapolation_method_id</text>
<rect class="w" x="693" y="4654" width="241" height="24"/><text x="697" y="4671">extrapolation_growth</text>
<rect class="w" x="693" y="4678" width="241" height="24"/><text x="697" y="4695">age_growth_or_decay_type_id</text>
<rect class="w" x="693" y="4702" width="241" height="24"/><text x="697" y="4719">age_growth_or_decay</text>
<rect class="w" x="693" y="4726" width="241" height="24"/><text x="697" y="4743">source</text>
<rect class="w" x="693" y="4750" width="241" height="24"/><text x="697" y="4767">notes</text>
<rect class="f" x="693" y="4774" width="90" height="24"/><rect class="f" x="783" y="4774" width="92" height="24"/><rect class="f" x="875" y="4774" width="59" height="24"/>
<text x="697" y="4791">&lt; 9</text><text class="tr" x="871" y="4791">75 rows</text><text class="tr" x="930" y="4791">1 &gt;</text>
</g>

<g id="AgeGrowthOrDecayType">
<rect class="h" x="423" y="4654" width="172" height="24"/><text class="tc" x="509" y="4671">AgeGrowthOrDecayType</text>
<rect class="w" x="423" y="4678" width="172" height="24"/><text x="427" y="4695">...</text>
<rect class="f" x="423" y="4702" width="50" height="24"/><rect class="f" x="473" y="4702" width="69" height="24"/><rect class="f" x="542" y="4702" width="53" height="24"/>
<text class="tr" x="538" y="4719">2 rows</text><text class="tr" x="591" y="4719">11 &gt;</text>
</g>

<g id="SupplyTechsVariableMaintenanceCost">
<rect class="h" x="684" y="4827" width="259" height="24"/><text class="tc" x="813.5" y="4844">SupplyTechsVariableMaintenanceCost</text>
<rect class="k" x="684" y="4851" width="259" height="24"/><text x="688" y="4868">supply_tech_id</text>
<rect class="w" x="684" y="4875" width="259" height="24"/><text x="688" y="4892">definition_id</text>
<rect class="w" x="684" y="4899" width="259" height="24"/><text x="688" y="4916">reference_tech_id</text>
<rect class="w" x="684" y="4923" width="259" height="24"/><text x="688" y="4940">currency_id</text>
<rect class="w" x="684" y="4947" width="259" height="24"/><text x="688" y="4964">geography_id</text>
<rect class="w" x="684" y="4971" width="259" height="24"/><text x="688" y="4988">currency_year_id</text>
<rect class="w" x="684" y="4995" width="259" height="24"/><text x="688" y="5012">energy_unit</text>
<rect class="w" x="684" y="5019" width="259" height="24"/><text x="688" y="5036">interpolation_method_id</text>
<rect class="w" x="684" y="5043" width="259" height="24"/><text x="688" y="5060">extrapolation_method_id</text>
<rect class="w" x="684" y="5067" width="259" height="24"/><text x="688" y="5084">extrapolation_growth</text>
<rect class="w" x="684" y="5091" width="259" height="24"/><text x="688" y="5108">age_growth_or_decay_type_id</text>
<rect class="w" x="684" y="5115" width="259" height="24"/><text x="688" y="5132">age_growth_or_decay</text>
<rect class="w" x="684" y="5139" width="259" height="24"/><text x="688" y="5156">source</text>
<rect class="w" x="684" y="5163" width="259" height="24"/><text x="688" y="5180">notes</text>
<rect class="f" x="684" y="5187" width="99" height="24"/><rect class="f" x="783" y="5187" width="96" height="24"/><rect class="f" x="879" y="5187" width="64" height="24"/>
<text x="688" y="5204">&lt; 9</text><text class="tr" x="875" y="5204">80 rows</text><text class="tr" x="939" y="5204">1 &gt;</text>
</g>

<g id="InflationConversion">
<rect class="h" x="748" y="5238" width="132" height="24"/><text class="tc" x="814" y="5255">InflationConversion</text>
<rect class="w" x="748" y="5262" width="132" height="24"/><text x="752" y="5279">currency_year_id</text>
<rect class="w" x="748" y="5286" width="132" height="24"/><text x="752" y="5303">currency_id</text>
<rect class="w" x="748" y="5310" width="132" height="24"/><text x="752" y="5327">value</text>
<rect class="k" x="748" y="5334" width="132" height="24"/><text x="752" y="5351">id</text>
<rect class="f" x="748" y="5358" width="41" height="24"/><rect class="f" x="789" y="5358" width="67" height="24"/><rect class="f" x="856" y="5358" width="24" height="24"/>
<text x="752" y="5375">&lt; 2</text><text class="tr" x="852" y="5375">16 rows</text>
</g>

<g id="ImportCost">
<rect class="h" x="730" y="5483" width="167" height="24"/><text class="tc" x="813.5" y="5500">ImportCost</text>
<rect class="k" x="730" y="5507" width="167" height="24"/><text x="734" y="5524">import_node_id</text>
<rect class="w" x="730" y="5531" width="167" height="24"/><text x="734" y="5548">source</text>
<rect class="w" x="730" y="5555" width="167" height="24"/><text x="734" y="5572">notes</text>
<rect class="w" x="730" y="5579" width="167" height="24"/><text x="734" y="5596">geography_id</text>
<rect class="w" x="730" y="5603" width="167" height="24"/><text x="734" y="5620">currency_id</text>
<rect class="w" x="730" y="5627" width="167" height="24"/><text x="734" y="5644">currency_year_id</text>
<rect class="w" x="730" y="5651" width="167" height="24"/><text x="734" y="5668">denominator_unit</text>
<rect class="w" x="730" y="5675" width="167" height="24"/><text x="734" y="5692">interpolation_method_id</text>
<rect class="w" x="730" y="5699" width="167" height="24"/><text x="734" y="5716">extrapolation_method_id</text>
<rect class="w" x="730" y="5723" width="167" height="24"/><text x="734" y="5740">extrapolation_growth</text>
<rect class="f" x="730" y="5747" width="57" height="24"/><rect class="f" x="787" y="5747" width="66" height="24"/><rect class="f" x="853" y="5747" width="44" height="24"/>
<text x="734" y="5764">&lt; 6</text><text class="tr" x="849" y="5764">9 rows</text><text class="tr" x="893" y="5764">1 &gt;</text>
</g>

<g id="ImportCostData">
<rect class="h" x="1087" y="5591" width="128" height="24"/><text class="tc" x="1151" y="5608">ImportCostData</text>
<rect class="w" x="1087" y="5615" width="128" height="24"/><text x="1091" y="5632">...</text>
<rect class="f" x="1087" y="5639" width="29" height="24"/><rect class="f" x="1116" y="5639" width="80" height="24"/><rect class="f" x="1196" y="5639" width="19" height="24"/>
<text x="1091" y="5656">&lt; 3</text><text class="tr" x="1192" y="5656">2,900 rows</text>
</g>

<g id="SupplyCost">
<rect class="h" x="730" y="5798" width="167" height="24"/><text class="tc" x="813.5" y="5815">SupplyCost</text>
<rect class="k" x="730" y="5822" width="167" height="24"/><text x="734" y="5839">id</text>
<rect class="w" x="730" y="5846" width="167" height="24"/><text x="734" y="5863">name</text>
<rect class="w" x="730" y="5870" width="167" height="24"/><text x="734" y="5887">source</text>
<rect class="w" x="730" y="5894" width="167" height="24"/><text x="734" y="5911">additional_notes</text>
<rect class="w" x="730" y="5918" width="167" height="24"/><text x="734" y="5935">supply_node_id</text>
<rect class="w" x="730" y="5942" width="167" height="24"/><text x="734" y="5959">geography_id</text>
<rect class="w" x="730" y="5966" width="167" height="24"/><text x="734" y="5983">supply_cost_type_id</text>
<rect class="w" x="730" y="5990" width="167" height="24"/><text x="734" y="6007">currency_id</text>
<rect class="w" x="730" y="6014" width="167" height="24"/><text x="734" y="6031">currency_year_id</text>
<rect class="w" x="730" y="6038" width="167" height="24"/><text x="734" y="6055">energy_or_capacity_unit</text>
<rect class="w" x="730" y="6062" width="167" height="24"/><text x="734" y="6079">time_unit</text>
<rect class="w" x="730" y="6086" width="167" height="24"/><text x="734" y="6103">is_capital_cost</text>
<rect class="w" x="730" y="6110" width="167" height="24"/><text x="734" y="6127">cost_of_capital</text>
<rect class="w" x="730" y="6134" width="167" height="24"/><text x="734" y="6151">book_life</text>
<rect class="w" x="730" y="6158" width="167" height="24"/><text x="734" y="6175">throughput_correlation</text>
<rect class="w" x="730" y="6182" width="167" height="24"/><text x="734" y="6199">interpolation_method_id</text>
<rect class="w" x="730" y="6206" width="167" height="24"/><text x="734" y="6223">extrapolation_method_id</text>
<rect class="w" x="730" y="6230" width="167" height="24"/><text x="734" y="6247">extrapolation_growth</text>
<rect class="f" x="730" y="6254" width="52" height="24"/><rect class="f" x="782" y="6254" width="74" height="24"/><rect class="f" x="856" y="6254" width="41" height="24"/>
<text x="734" y="6271">&lt; 7</text><text class="tr" x="852" y="6271">11 rows</text><text class="tr" x="893" y="6271">1 &gt;</text>
</g>

<g id="SupplyCostTypes">
<rect class="h" x="447" y="5942" width="124" height="24"/><text class="tc" x="509" y="5959">SupplyCostTypes</text>
<rect class="w" x="447" y="5966" width="124" height="24"/><text x="451" y="5983">...</text>
<rect class="f" x="447" y="5990" width="30" height="24"/><rect class="f" x="477" y="5990" width="58" height="24"/><rect class="f" x="535" y="5990" width="36" height="24"/>
<text class="tr" x="531" y="6007">3 rows</text><text class="tr" x="567" y="6007">1 &gt;</text>
</g>

<g id="SupplyCostData">
<rect class="h" x="1087" y="6072" width="128" height="24"/><text class="tc" x="1151" y="6089">SupplyCostData</text>
<rect class="w" x="1087" y="6096" width="128" height="24"/><text x="1091" y="6113">...</text>
<rect class="f" x="1087" y="6120" width="29" height="24"/><rect class="f" x="1116" y="6120" width="80" height="24"/><rect class="f" x="1196" y="6120" width="19" height="24"/>
<text x="1091" y="6137">&lt; 3</text><text class="tr" x="1192" y="6137">4,093 rows</text>
</g>

<g id="GeographiesData">
<rect class="h" x="441" y="6274" width="135" height="24"/><text class="tc" x="508.5" y="6291">GeographiesData</text>
<rect class="w" x="441" y="6298" width="135" height="24"/><text x="445" y="6315">...</text>
<rect class="f" x="441" y="6322" width="29" height="24"/><rect class="f" x="470" y="6322" width="69" height="24"/><rect class="f" x="539" y="6322" width="37" height="24"/>
<text x="445" y="6339">&lt; 1</text><text class="tr" x="535" y="6339">128 rows</text><text class="tr" x="572" y="6339">62 &gt;</text>
</g>

<text x="17" y="6430">Generated by SchemaSpy</text>
</svg>
